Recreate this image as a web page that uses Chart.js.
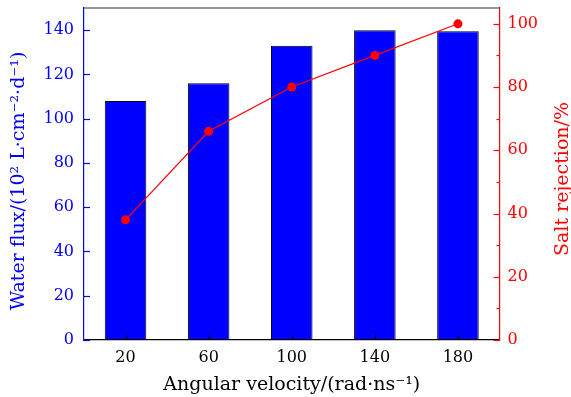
<!DOCTYPE html>
<html>
<head>
<meta charset="utf-8">
<script src="https://cdn.jsdelivr.net/npm/chart.js"></script>
<style>
  body { margin: 0; background: #fff; }
  canvas { display: block; }
</style>
</head>
<body>
<canvas id="chart" width="571" height="397"></canvas>
<script>
// data
const categories = ['20', '60', '100', '140', '180'];
const waterFlux = [108, 116, 133, 140, 139.5];
const saltRejection = [38, 66, 80, 90, 100];
const fluxTicks = [0, 20, 40, 60, 80, 100, 120, 140];
const rejectionTicks = [0, 10, 20, 30, 40, 50, 60, 70, 80, 90, 100];

const FONT = 'DejaVu Serif';
const BLUE = '#0000ff';
const RED = '#ff0000';

function line(ctx, x1, y1, x2, y2) {
    ctx.beginPath();
    ctx.moveTo(x1, y1);
    ctx.lineTo(x2, y2);
    ctx.stroke();
}

function vText(ctx, text, x, y, color) {
    ctx.save();
    ctx.translate(x, y);
    ctx.rotate(-Math.PI / 2);
    ctx.fillStyle = color;
    ctx.font = '19px "' + FONT + '"';
    ctx.textAlign = 'center';
    ctx.textBaseline = 'middle';
    ctx.fillText(text, 0, 0);
    ctx.restore();
}

// inward tick marks, top frame line and the two vertical titles
const framePlugin = {
    id: 'frame',
    afterDraw(chart) {
        const { ctx, chartArea: a, scales } = chart;
        ctx.save();
        ctx.lineWidth = 1.2;

        ctx.strokeStyle = '#333';
        line(ctx, a.left, a.top, a.right, a.top);

        ctx.strokeStyle = BLUE;
        scales.y.ticks.forEach(t => {
            const py = Math.round(scales.y.getPixelForValue(t.value)) + 0.5;
            line(ctx, a.left, py, a.left + 6, py);
        });

        ctx.strokeStyle = RED;
        scales.y1.ticks.forEach(t => {
            const py = Math.round(scales.y1.getPixelForValue(t.value)) + 0.5;
            const len = t.value % 20 === 0 ? 6 : 3;
            line(ctx, a.right, py, a.right - len, py);
        });

        ctx.strokeStyle = '#000';
        scales.x.ticks.forEach((t, i) => {
            const px = Math.round(scales.x.getPixelForTick(i)) + 0.5;
            line(ctx, px, a.bottom, px, a.bottom - 5);
        });
        ctx.restore();

        vText(ctx, 'Water flux/(10² L·cm⁻²·d⁻¹)', 19, 181, BLUE);
        vText(ctx, 'Salt rejection/%', 563, 179, RED);
    }
};

new Chart(document.getElementById('chart'), {
    data: {
        labels: categories,
        datasets: [{
            type: 'line',
            data: saltRejection,
            yAxisID: 'y1',
            borderColor: RED,
            backgroundColor: RED,
            borderWidth: 1.2,
            pointRadius: 4.5,
            pointBorderWidth: 0,
            tension: 0,
            order: 0
        }, {
            type: 'bar',
            data: waterFlux,
            yAxisID: 'y',
            backgroundColor: BLUE,
            borderColor: '#000',
            borderWidth: 1,
            borderSkipped: false,
            categoryPercentage: 1,
            barPercentage: 0.5,
            order: 1
        }]
    },
    options: {
        responsive: false,
        animation: false,
        layout: { padding: { top: 8, left: 0, right: 0, bottom: 0 } },
        plugins: { legend: { display: false }, tooltip: { enabled: false } },
        scales: {
            x: {
                offset: true,
                grid: { display: false, drawTicks: false },
                border: { color: '#000', width: 1.2 },
                ticks: { color: '#000', padding: 8, font: { family: FONT, size: 16 } },
                title: {
                    display: true,
                    text: 'Angular velocity/(rad·ns⁻¹)',
                    color: '#000',
                    font: { family: FONT, size: 19 },
                    padding: { top: 1, bottom: 1 }
                },
                afterFit(scale) {
                    scale.height = 57;
                    scale.paddingLeft = 0;
                    scale.paddingRight = 0;
                }
            },
            y: {
                position: 'left',
                min: 0,
                max: 150,
                grid: { display: false, drawTicks: false },
                border: { color: BLUE, width: 1.2 },
                ticks: { color: BLUE, padding: 10, font: { family: FONT, size: 16 } },
                afterBuildTicks(scale) {
                    scale.ticks = fluxTicks.map(v => ({ value: v }));
                },
                afterFit(scale) {
                    scale.width = 84;
                    scale.paddingTop = 0;
                    scale.paddingBottom = 0;
                }
            },
            y1: {
                position: 'right',
                min: 0,
                max: 105,
                grid: { display: false, drawTicks: false },
                border: { color: RED, width: 1.2 },
                ticks: {
                    color: RED,
                    padding: 8,
                    autoSkip: false,
                    font: { family: FONT, size: 16 },
                    callback: v => (v % 20 === 0 ? String(v) : '')
                },
                afterBuildTicks(scale) {
                    scale.ticks = rejectionTicks.map(v => ({ value: v }));
                },
                afterFit(scale) {
                    scale.width = 71.5;
                    scale.paddingTop = 0;
                    scale.paddingBottom = 0;
                }
            }
        }
    },
    plugins: [framePlugin]
});
</script>
</body>
</html>
